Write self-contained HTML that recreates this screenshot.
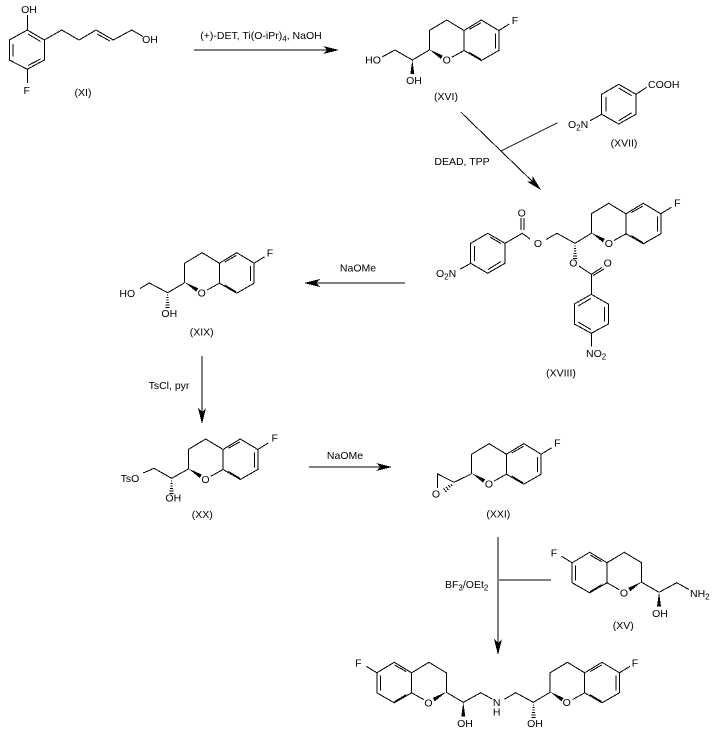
<!DOCTYPE html>
<html><head><meta charset="utf-8"><style>
html,body{margin:0;padding:0;background:#fff;width:713px;height:735px;overflow:hidden}
svg{display:block}
text{font-family:"Liberation Sans",sans-serif;font-size:10.5px;fill:#000;text-anchor:middle}
.l{text-anchor:start}
.ln{fill:none;stroke:#000;stroke-width:1;shape-rendering:crispEdges}
polygon{shape-rendering:crispEdges}
</style></head><body>
<svg width="713" height="735" viewBox="0 0 713 735" xmlns="http://www.w3.org/2000/svg">
<defs>
<g id="chroman">
<path class="ln" d="M0,0V-19.5L17.4,-30L34.7,-19.5L52,-30L69.5,-19.5V0.5L52,10.5L34.7,0.5V-19.5M34.7,0.5L22.5,7.3M69.5,-19.5L80,-26M40,-20.7L51.7,-27.3M66,-16.7V-1.7M40,2.3L51.7,9.3"/>
<polygon points="0,-0.5 13.5,5.6 11.5,9"/>
</g>
<g id="hash"><path class="ln" d="M-0.5,2.5h1M-1,5h2M-1,7.5h2M-1.5,10h3M-2,12.5h4M-2,15h4"/></g>
<polygon id="wedge" points="0,0 -2,14 2,14"/>
<polygon id="ahead" points="0,0 -16,-4 -12,0 -16,4"/>
</defs>

<!-- XI -->
<path class="ln" d="M27.3,30L44.3,40V60L27.3,69.3L9.3,60V40L27.3,30V15M27.3,69.3V83M28,34L40.5,41.5M28,65.5L40.5,59M13,44V56.5M44.3,40L61.7,30L79,40L96,30L113.3,40L131.7,30L143,36.5M97,34L110,41"/>
<text x="29" y="13">OH</text>
<text x="26.7" y="94">F</text>
<text x="150" y="43">OH</text>
<text x="83" y="96">(XI)</text>

<!-- Arrow 1 -->
<path class="ln" d="M194,50H328"/>
<use href="#ahead" transform="translate(339,50)"/>
<text x="261" y="39">(+)-DET, Ti(O-iPr)<tspan dy="2.5" font-size="8">4</tspan><tspan dy="-2.5">, NaOH</tspan></text>

<!-- XVI -->
<use href="#chroman" x="429.3" y="50"/>
<path class="ln" d="M429.3,50L412.3,60L395,50L382,57"/>
<use href="#wedge" transform="translate(412.3,60)"/>
<text x="373" y="63.5">HO</text>
<text x="414" y="84">OH</text>
<text x="446.7" y="63.5">O</text>
<text x="515" y="24">F</text>
<text x="446" y="100">(XVI)</text>

<!-- XVII -->
<path class="ln" d="M618.7,84.3L636,94.3V114.3L618.7,124L601.7,114.3V94.3L618.7,84.3M606,97V111.7M618.7,88L631.7,95.7M618.7,120.7L631.7,112.7M636,94.3L646.7,87.3M601.7,114.3L590,120.7"/>
<text class="l" x="648" y="88">COOH</text>
<text class="l" x="568" y="128">O<tspan dy="2.5" font-size="8">2</tspan><tspan dy="-2.5">N</tspan></text>
<text x="624" y="146.5">(XVII)</text>

<!-- Arrow XVI->XVIII -->
<path class="ln" d="M461,112.3L534,183M557.7,122.7L501.7,150.7"/>
<use href="#ahead" transform="translate(541,190) rotate(45)"/>
<text x="462" y="165">DEAD, TPP</text>

<!-- XVIII -->
<use href="#chroman" x="591.3" y="233.3"/>
<path class="ln" d="M591.3,233.3L575,243.3L557,233.3L546,239.5M530,239L522.3,233.3L505,243.3L487.7,233.3L470.7,243.3V263.3L487.7,273.3L505,263.3V243.3M521,230V218M524,230V218M490,237L501,243.5M474.5,246V261M488,269.5L501,261.5M470.7,263.3L460,269.3"/>
<use href="#hash" transform="translate(575,243.3)"/>
<path class="ln" d="M579,266L591.3,274.3L602,267.5M593,275.5L604,269M591.3,274.3V294.3L608.3,304V324L591.3,333.3L574.3,324V304L591.3,294.3M591.3,333.3V346.7M578,306L591,298.5M604.5,307V321.5M578,322L591,329.5"/>
<text x="538" y="247">O</text>
<text x="521.7" y="216.5">O</text>
<text class="l" x="436" y="277">O<tspan dy="2.5" font-size="8">2</tspan><tspan dy="-2.5">N</tspan></text>
<text x="573.3" y="266.5">O</text>
<text x="607.7" y="266.5">O</text>
<text x="608.8" y="247">O</text>
<text x="677.3" y="206.7">F</text>
<text class="l" x="586" y="357">NO<tspan dy="2.5" font-size="8">2</tspan></text>
<text x="561" y="376.5">(XVIII)</text>

<!-- Arrow NaOMe 1 -->
<path class="ln" d="M405,283H316"/>
<use href="#ahead" transform="translate(304,283) rotate(180)"/>
<text x="358" y="271.5">NaOMe</text>

<!-- XIX -->
<use href="#chroman" x="184.7" y="282.7"/>
<path class="ln" d="M184.7,282.7L167.7,292.7L149.3,283L140,288.5"/>
<use href="#hash" transform="translate(167.7,292.7)"/>
<text x="127.3" y="297">HO</text>
<text x="169.3" y="317">OH</text>
<text x="201.7" y="296.5">O</text>
<text x="270" y="256.7">F</text>
<text x="201.7" y="335.5">(XIX)</text>

<!-- Arrow down -->
<path class="ln" d="M202,356V412"/>
<use href="#ahead" transform="translate(202,424) rotate(90)"/>
<text x="169" y="389">TsCl, pyr</text>

<!-- XX -->
<use href="#chroman" x="188.3" y="469"/>
<path class="ln" d="M188.3,469L171.7,478.3L154,468.3L143.3,473"/>
<use href="#hash" transform="translate(171.7,478.3)"/>
<text x="130" y="482">TsO</text>
<text x="173.3" y="501.5">OH</text>
<text x="205.5" y="482.8">O</text>
<text x="274.7" y="441.7">F</text>
<text x="202.3" y="517.8">(XX)</text>

<!-- Arrow NaOMe 2 -->
<path class="ln" d="M309,467H381"/>
<use href="#ahead" transform="translate(392,467)"/>
<text x="345" y="459">NaOMe</text>

<!-- XXI -->
<use href="#chroman" x="471.7" y="473.7"/>
<path class="ln" d="M471.7,473.7L454,482.3L437.7,474V488"/>
<path class="ln" d="M451,484.5l1.5,1.5M448.5,485.5l2,2M446,487l2.5,3M443.5,488.5l3,3.5"/>
<text x="436" y="497.3">O</text>
<text x="489" y="487.5">O</text>
<text x="557.3" y="446.7">F</text>
<text x="498.3" y="517.7">(XXI)</text>

<!-- Arrow down 2 -->
<path class="ln" d="M498,537V643M499,580H551"/>
<use href="#ahead" transform="translate(498,655) rotate(90)"/>
<text class="l" x="445" y="588">BF<tspan dy="2.5" font-size="8">3</tspan><tspan dy="-2.5">/OEt</tspan><tspan dy="2.5" font-size="8">2</tspan></text>

<!-- XV -->
<use href="#chroman" transform="translate(641.7,582.3) scale(-1,1)"/>
<path class="ln" d="M641.7,582.3L659,592.3L676.7,582.7L689,589.5"/>
<use href="#wedge" transform="translate(659,592.3)"/>
<text class="l" x="690" y="597">NH<tspan dy="2.5" font-size="8">2</tspan></text>
<text x="660" y="617">OH</text>
<text x="624" y="596.5">O</text>
<text x="554" y="556.7">F</text>
<text x="623.3" y="629">(XV)</text>

<!-- Product left -->
<use href="#chroman" transform="translate(446.3,692.3) scale(-1,1)"/>
<path class="ln" d="M446.3,692.3L463.3,702.3L480.7,692.7L492.7,699.3"/>
<use href="#wedge" transform="translate(463.3,702.3)"/>
<text x="358.3" y="666.7">F</text>
<text x="428.5" y="706.5">O</text>
<text x="465" y="727">OH</text>
<text x="496.7" y="706">N</text>
<text x="496.7" y="715.5">H</text>

<!-- Product right -->
<path class="ln" d="M504.3,699.3L515.7,692.7L533.3,702.3L550,692.3"/>
<use href="#hash" transform="translate(533.3,702.3)"/>
<use href="#chroman" x="550" y="692.3"/>
<text x="535" y="727">OH</text>
<text x="566.7" y="706">O</text>
<text x="635" y="666.7">F</text>
</svg>
</body></html>
